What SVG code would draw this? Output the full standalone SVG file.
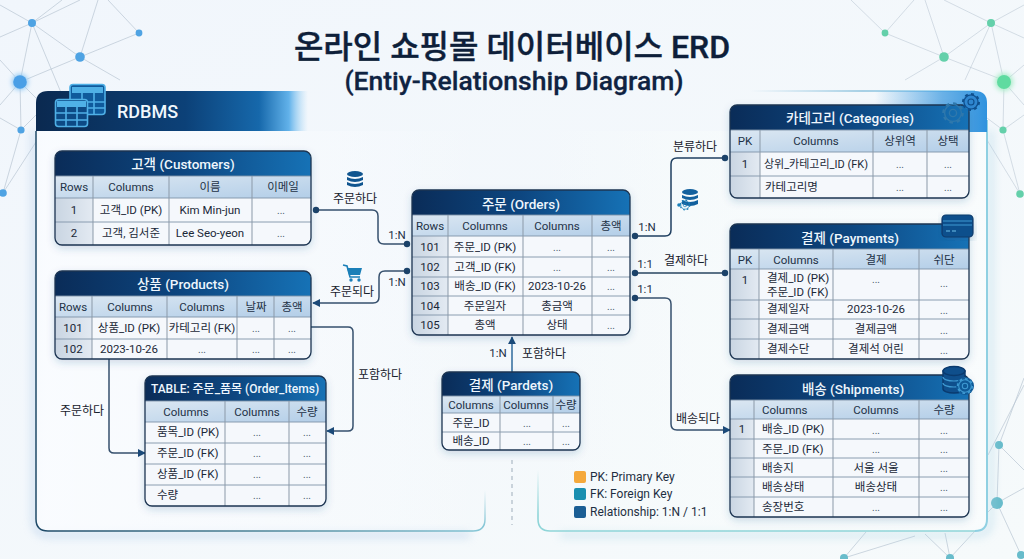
<svg xmlns="http://www.w3.org/2000/svg" width="1024" height="559" viewBox="0 0 1024 559">
<style>
text{font-family:Roboto,"Noto Sans CJK KR",sans-serif;fill:#1b2838}
.c{font-size:11.5px;text-anchor:middle}
.n{font-size:11.5px;text-anchor:middle}
.d{font-size:10px;text-anchor:middle;fill:#4a5a6c}
.l{font-size:11.5px}
.ch{font-size:11.5px;text-anchor:middle;fill:#1d3146}
.h{font-size:13.5px;font-weight:500;text-anchor:middle;fill:#eef6fd}
.r{font-size:12px;text-anchor:middle;fill:#16202c}
.k{font-size:11.5px;text-anchor:middle;fill:#1b2f45}
.lg{font-size:12px;fill:#1e2f42}
.net{stroke:#b9c6d2;stroke-width:.7;fill:none}
.bd{fill:#f5f8fc}
.hb{fill:url(#hg)}
.hc{fill:url(#cg)}
.sd{fill:url(#sg)}
.rl{stroke:#7f93a8;stroke-width:.9;fill:none}
.gl{stroke:#8b99a8;stroke-width:1;fill:none}
.fr{fill:none;stroke:#1d3552;stroke-width:1.3}
.cn{fill:none;stroke:#36506d;stroke-width:1.5}
.dot{fill:#1c4268}
.ic{fill:none;stroke:#4fb0e6;stroke-width:1.6}
</style>
<defs>
<linearGradient id="bg" x1="0" y1="0" x2="1" y2="1"><stop offset="0" stop-color="#f1f6fc"/><stop offset="1" stop-color="#f6fafb"/></linearGradient>
<linearGradient id="hg" x1="0" y1="0" x2="1" y2="0"><stop offset="0" stop-color="#0a2c58"/><stop offset=".5" stop-color="#0d4680"/><stop offset="1" stop-color="#1672b6"/></linearGradient>
<linearGradient id="cg" x1="0" y1="0" x2="1" y2="1"><stop offset="0" stop-color="#dbe7f2"/><stop offset="1" stop-color="#b3cee8"/></linearGradient>
<linearGradient id="sg" x1="0" y1="0" x2="1" y2="0"><stop offset="0" stop-color="#c9d5e2"/><stop offset="1" stop-color="#e3eaf2"/></linearGradient>
<linearGradient id="ban" x1="36" y1="0" x2="308" y2="0" gradientUnits="userSpaceOnUse"><stop offset="0" stop-color="#0a2950"/><stop offset=".55" stop-color="#0c4178"/><stop offset=".82" stop-color="#1668ab"/><stop offset=".93" stop-color="#62b2ea"/><stop offset="1" stop-color="#a6d6f5" stop-opacity="0"/></linearGradient>
<linearGradient id="lp" x1="36" y1="0" x2="485" y2="0" gradientUnits="userSpaceOnUse"><stop offset="0" stop-color="#1f4a68"/><stop offset=".5" stop-color="#4d8498"/><stop offset="1" stop-color="#86c6d6"/></linearGradient>
<linearGradient id="lpr" x1="0" y1="490" x2="0" y2="525" gradientUnits="userSpaceOnUse"><stop offset="0" stop-color="#9ccfdc" stop-opacity="0"/><stop offset="1" stop-color="#86c6d6"/></linearGradient>
<linearGradient id="rpl" x1="0" y1="470" x2="0" y2="515" gradientUnits="userSpaceOnUse"><stop offset="0" stop-color="#8fd5d8" stop-opacity="0"/><stop offset="1" stop-color="#8fd5d8"/></linearGradient>
<linearGradient id="rpt" x1="750" y1="0" x2="975" y2="0" gradientUnits="userSpaceOnUse"><stop offset="0" stop-color="#5da9cf" stop-opacity="0"/><stop offset=".5" stop-color="#5da9cf"/><stop offset="1" stop-color="#62c0ea"/></linearGradient>
<linearGradient id="rpc" x1="875" y1="0" x2="987" y2="0" gradientUnits="userSpaceOnUse"><stop offset="0" stop-color="#3d9ae0" stop-opacity="0"/><stop offset=".6" stop-color="#3d9ae0" stop-opacity=".75"/><stop offset="1" stop-color="#2f92de"/></linearGradient>
<linearGradient id="lfill" x1="36" y1="0" x2="485" y2="0" gradientUnits="userSpaceOnUse"><stop offset="0" stop-color="#fafcff" stop-opacity=".9"/><stop offset=".7" stop-color="#fafcff" stop-opacity=".35"/><stop offset="1" stop-color="#fafcff" stop-opacity="0"/></linearGradient>
<linearGradient id="rfill" x1="538" y1="0" x2="987" y2="0" gradientUnits="userSpaceOnUse"><stop offset="0" stop-color="#f8fcfc" stop-opacity="0"/><stop offset=".35" stop-color="#f8fcfc" stop-opacity=".5"/><stop offset="1" stop-color="#f9fcfd" stop-opacity=".95"/></linearGradient>
<filter id="sh" x="-10%" y="-10%" width="120%" height="125%"><feDropShadow dx="0" dy="3" stdDeviation="4" flood-color="#28558a" flood-opacity=".22"/></filter>
<filter id="bl" x="-5%" y="-5%" width="110%" height="110%"><feGaussianBlur stdDeviation="4"/></filter>
<filter id="gw" x="-100%" y="-100%" width="300%" height="300%"><feGaussianBlur stdDeviation="2.5"/></filter>
<marker id="ar" viewBox="0 0 10 10" refX="9" refY="5" markerWidth="5.5" markerHeight="5.5" orient="auto-start-reverse" markerUnits="strokeWidth"><path d="M0 0L10 5L0 10Z" fill="#1c4a78"/></marker>
<symbol id="gear" viewBox="-12 -12 24 24" overflow="visible">
<circle r="8.4" fill="none" stroke="currentColor" stroke-width="1.4"/>
<circle r="9.6" fill="none" stroke="currentColor" stroke-width="2.4" stroke-dasharray="3.5 4"/>
<circle r="3.6" fill="none" stroke="currentColor" stroke-width="1.4"/>
</symbol>
<clipPath id="t1"><rect x="55" y="151" width="256" height="94" rx="7"/></clipPath>
<clipPath id="t2"><rect x="55" y="271" width="256" height="88" rx="7"/></clipPath>
<clipPath id="t3"><rect x="145" y="376" width="181" height="130" rx="7"/></clipPath>
<clipPath id="t4"><rect x="412" y="190" width="218" height="145" rx="7"/></clipPath>
<clipPath id="t5"><rect x="442" y="372" width="138" height="78" rx="7"/></clipPath>
<clipPath id="t6"><rect x="730" y="105" width="239" height="93" rx="7"/></clipPath>
<clipPath id="t7"><rect x="730" y="224" width="239" height="135" rx="7"/></clipPath>
<clipPath id="t8"><rect x="730" y="375" width="239" height="142" rx="7"/></clipPath>
</defs>
<rect width="1024" height="559" fill="url(#bg)"/>
<g id="network">
<path class="net" d="M32 23L80 57M32 23L0 5M32 23L0 37M32 23L20 82M32 23L80 0M32 23L62 0M32 23L62 95M80 57L98 0M80 57L139 33M80 57L120 80M80 57L20 82M139 33L108 0M20 82L0 60M20 82L0 105M20 82L21 130M20 82L36 98M21 130L0 118M21 130L36 115M21 130L3 193M3 193L36 142"/>
<path class="net" stroke-opacity=".8" d="M885 33L851 0M885 33L914 0M885 33L944 57M944 57L991 23M944 57L925 0M944 57L905 80M944 57L1003 80M991 23L944 0M991 23L1024 5M991 23L1024 38M991 23L1004 82M991 23L965 80M1004 82L1024 65M1004 82L1024 105M1004 82L1003 130M1003 130L987 118M1003 130L1024 115M1003 130L1020 194M1020 194L987 140"/>
<path class="net" stroke="#bcd3d8" d="M999 445L997 503M999 445L1024 470M999 445L1024 378M988 455L1024 385M997 503L1024 488M997 503L1021 555M997 503L987 513M844 558L915 536M950 558L925 534M950 558L945 533M950 558L975 531M844 558L866 532"/>
<g fill="#4fa3e3"><circle cx="32" cy="23" r="4"/><circle cx="139" cy="33" r="3.4"/><circle cx="80" cy="57" r="4.8"/><circle cx="21" cy="130" r="3.6"/><circle cx="3" cy="193" r="3.8"/></g>
<circle cx="20" cy="82" r="8" fill="#8ec8f3" filter="url(#gw)"/><circle cx="20" cy="82" r="6.8" fill="#4a9fe6"/>
<g fill="#64d0aa"><circle cx="885" cy="33" r="3.4"/><circle cx="991" cy="23" r="4"/><circle cx="944" cy="57" r="4.8"/><circle cx="1003" cy="130" r="3.6"/><circle cx="1020" cy="194" r="3.8"/></g>
<circle cx="1004" cy="82" r="9" fill="#a8ecc8" filter="url(#gw)"/><circle cx="1004" cy="82" r="7" fill="#5fdba0"/>
<g fill="#68bccb"><circle cx="999" cy="445" r="4"/><circle cx="997" cy="503" r="6"/><circle cx="844" cy="558" r="4"/><circle cx="950" cy="558" r="4"/><circle cx="1021" cy="555" r="4"/></g>
</g>
<g id="panel-left">
<path d="M34 131V519Q34 535 50 535H470" fill="none" stroke="#a9c6e6" stroke-width="5" opacity=".55" filter="url(#bl)"/>
<path d="M36 131H485V519Q485 531 473 531H48Q36 531 36 519Z" fill="url(#lfill)"/>
<path d="M36 131V519Q36 531 48 531H473" fill="none" stroke="url(#lp)" stroke-width="1.5"/>
<path d="M473 531Q485 531 485 519V490" fill="none" stroke="url(#lpr)" stroke-width="1.5"/>
<path d="M36 131V103Q36 91 48 91H308V131Z" fill="url(#ban)"/>
<g class="ic"><rect x="70" y="84.500" width="35" height="30" rx="3" fill="#0f5a9c"/><rect x="72" y="87" width="31" height="6" fill="#4fb0e6" stroke="none"/><path d="M82 93V114M94 93V114M70 102H105M70 108H105"/></g>
<g class="ic"><rect x="55.500" y="99.500" width="32" height="27" rx="3" fill="#0d4a85"/><rect x="57" y="101" width="29" height="6" fill="#4fb0e6" stroke="none"/><path d="M66 107V126M77 107V126M55 113H88M55 120H88"/></g>
<text x="117" y="118" font-size="18" font-weight="500" style="fill:#f0f7fd">RDBMS</text>
</g>
<g id="panel-right">
<path d="M560 535H975Q991 535 991 519V130" fill="none" stroke="#a9d3e6" stroke-width="5" opacity=".5" filter="url(#bl)"/>
<path d="M538 131H987V519Q987 531 975 531H550Q538 531 538 519Z" fill="url(#rfill)"/>
<path d="M538 470V519Q538 531 550 531H975" fill="none" stroke="url(#rpl)" stroke-width="1.6"/>
<path d="M975 531Q987 531 987 519V120" fill="none" stroke="#8fd0e2" stroke-width="2"/>
<path d="M750 91H975" fill="none" stroke="url(#rpt)" stroke-width="1.2"/>
<path d="M875 91H975Q987 91 987 103V132H875Z" fill="url(#rpc)"/>
</g>
<line id="divider" x1="512" y1="460" x2="512" y2="525" stroke="#b3bfca" stroke-width="1.3" stroke-dasharray="4 4"/>
<g id="title">
<text x="512" y="58" font-size="32" font-weight="500" text-anchor="middle" style="fill:#0e1f3a;stroke:#0e1f3a;stroke-width:.4">온라인 쇼핑몰 데이터베이스 ERD</text>
<text x="514" y="90" font-size="26.500" font-weight="500" text-anchor="middle" style="fill:#0f2342;stroke:#0f2342;stroke-width:.3">(Entiy-Relationship Diagram)</text>
</g>
<g id="connectors">
<path class="cn" d="M316 210H372Q378 210 378 216V238Q378 244 384 244H407"/>
<path class="cn" marker-end="url(#ar)" d="M407 271H385Q379 271 379 277V297Q379 303 373 303H313"/>
<path class="cn" marker-end="url(#ar)" d="M311 327H348Q353 327 353 332V426Q353 431 348 431H327"/>
<path class="cn" marker-end="url(#ar)" d="M109 359V448Q109 453 114 453H145"/>
<path class="cn" marker-end="url(#ar)" style="stroke:#2f6b9c" d="M512 372V337"/>
<path class="cn" style="stroke:#1f3f60" d="M635 236H665Q671 236 671 230V164Q671 158 677 158H725"/>
<path class="cn" style="stroke:#5b7287;stroke-width:1.8" d="M635 273H725"/>
<path class="cn" marker-end="url(#ar)" d="M635 298H665Q671 298 671 304V424Q671 430 677 430H730"/>
<g class="dot"><circle cx="316" cy="210" r="3.2"/><circle cx="407" cy="244" r="3.2"/><circle cx="407" cy="271" r="3.2"/><circle cx="635" cy="236" r="3.2"/><circle cx="725" cy="158" r="3.2"/><circle cx="635" cy="273" r="3.2"/><circle cx="725" cy="273" r="3.2"/><circle cx="635" cy="298" r="3.2"/></g>
</g>
<g id="connector-labels">
<text class="r" x="355" y="203">주문하다</text>
<text class="k" x="397" y="239">1:N</text>
<text class="r" x="352" y="296">주문되다</text>
<text class="k" x="397" y="286">1:N</text>
<text class="r" x="380" y="379">포함하다</text>
<text class="r" x="82" y="415">주문하다</text>
<text class="k" x="498" y="357">1:N</text>
<text class="r" x="544" y="358">포함하다</text>
<text class="r" x="695" y="151">분류하다</text>
<text class="k" x="647" y="231">1:N</text>
<text class="k" x="645" y="268">1:1</text>
<text class="r" x="686" y="265">결제하다</text>
<text class="k" x="645" y="293">1:1</text>
<text class="r" x="698" y="423">배송되다</text>
</g>
<g id="connector-icons">
<g fill="#10558f"><ellipse cx="355" cy="174" rx="8" ry="3"/><path d="M347 177Q355 181 363 177V180Q355 184 347 180Z"/><path d="M347 182Q355 186 363 182V185Q355 189 347 185Z"/></g>
<g fill="none" stroke="#1a7fb8" stroke-width="1.6"><path d="M343 265L347 266L350 277H360"/></g><path d="M347 268H362L360 275H349Z" fill="#1a7fb8"/><circle cx="351" cy="280" r="1.7" fill="#1a7fb8"/><circle cx="359" cy="280" r="1.7" fill="#1a7fb8"/>
<g fill="#12609e"><ellipse cx="690" cy="192" rx="8" ry="3"/><path d="M682 195Q690 199 698 195V198Q690 202 682 198Z"/><path d="M682 200Q690 204 698 200V204Q690 208 682 204Z"/></g>
<use href="#gear" x="679" y="199" width="12" height="12" color="#1a7fb8"/><circle cx="679" cy="205" r="1.8" fill="#1a7fb8"/>
</g>
<g id="customers">
<g filter="url(#sh)"><rect class="bd" x="55" y="151" width="256" height="94" rx="7"/></g>
<g clip-path="url(#t1)">
<rect class="hb" x="55" y="151" width="256" height="25"/><rect class="hc" x="55" y="176" width="256" height="22"/><rect class="sd" x="55" y="198" width="38" height="47"/>
<path class="rl" d="M55 176H311M55 198H311M55 222H311"/><path class="gl" d="M93 176V245M169 176V245M252 176V245"/></g>
<rect class="fr" x="55" y="151" width="256" height="94" rx="7"/>
<text class="h" x="183" y="169">고객 (Customers)</text>
<text class="ch" x="74" y="191">Rows</text><text class="ch" x="131" y="191">Columns</text><text class="ch" x="210" y="191">이름</text><text class="ch" x="283" y="191">이메일</text>
<text class="n" x="74" y="214">1</text><text class="c" x="131" y="214">고객_ID (PK)</text><text class="c" x="210" y="214">Kim Min-jun</text><text class="d" x="281" y="214">...</text>
<text class="n" x="74" y="237">2</text><text class="c" x="131" y="237">고객, 김서준</text><text class="c" x="210" y="237">Lee Seo-yeon</text><text class="d" x="281" y="237">...</text>
</g>
<g id="products">
<g filter="url(#sh)"><rect class="bd" x="55" y="271" width="256" height="88" rx="7"/></g>
<g clip-path="url(#t2)">
<rect class="hb" x="55" y="271" width="256" height="25"/><rect class="hc" x="55" y="296" width="256" height="21"/><rect class="sd" x="55" y="317" width="37" height="42"/>
<path class="rl" d="M55 296H311M55 317H311M55 339H311"/><path class="gl" d="M92 296V359M167 296V359M237 296V359M274 296V359"/></g>
<rect class="fr" x="55" y="271" width="256" height="88" rx="7"/>
<text class="h" x="183" y="289">상품 (Products)</text>
<text class="ch" x="73" y="311">Rows</text><text class="ch" x="130" y="311">Columns</text><text class="ch" x="202" y="311">Columns</text><text class="ch" x="256" y="311">날짜</text><text class="ch" x="292" y="311">총액</text>
<text class="n" x="73" y="332">101</text><text class="c" x="129" y="332">상품_ID (PK)</text><text class="c" x="202" y="332">카테고리 (FK)</text><text class="d" x="256" y="332">...</text><text class="d" x="292" y="332">...</text>
<text class="n" x="73" y="353">102</text><text class="c" x="129" y="353">2023-10-26</text><text class="d" x="202" y="353">...</text><text class="d" x="256" y="353">...</text><text class="d" x="292" y="353">...</text>
</g>
<g id="order-items">
<g filter="url(#sh)"><rect class="bd" x="145" y="376" width="181" height="130" rx="7"/></g>
<g clip-path="url(#t3)">
<rect class="hb" x="145" y="376" width="181" height="25"/><rect class="hc" x="145" y="401" width="181" height="21"/>
<path class="rl" d="M145 401H326M145 422H326M145 443H326M145 464H326M145 485H326"/><path class="gl" d="M225 401V506M289 401V506"/></g>
<rect class="fr" x="145" y="376" width="181" height="130" rx="7"/>
<text class="h" x="235" y="393" style="font-size:12px">TABLE: 주문_품목 (Order_Items)</text>
<text class="ch" x="186" y="416">Columns</text><text class="ch" x="257" y="416">Columns</text><text class="ch" x="307" y="416">수량</text>
<text class="l" x="157" y="436">품목_ID (PK)</text><text class="d" x="257" y="436">...</text><text class="d" x="307" y="436">...</text>
<text class="l" x="157" y="457">주문_ID (FK)</text><text class="d" x="257" y="457">...</text><text class="d" x="307" y="457">...</text>
<text class="l" x="157" y="478">상품_ID (FK)</text><text class="d" x="257" y="478">...</text><text class="d" x="307" y="478">...</text>
<text class="l" x="157" y="499">수량</text><text class="d" x="257" y="499">...</text><text class="d" x="307" y="499">...</text>
</g>
<g id="orders">
<g filter="url(#sh)"><rect class="bd" x="412" y="190" width="218" height="145" rx="7"/></g>
<g clip-path="url(#t4)">
<rect class="hb" x="412" y="190" width="218" height="25"/><rect class="hc" x="412" y="215" width="218" height="21"/><rect class="sd" x="412" y="236" width="36" height="99"/>
<path class="rl" d="M412 215H630M412 236H630M412 257H630M412 277H630M412 296H630M412 315H630"/><path class="gl" d="M448 215V335M523 215V335M592 215V335"/></g>
<rect class="fr" x="412" y="190" width="218" height="145" rx="7"/>
<text class="h" x="521" y="209">주문 (Orders)</text>
<text class="ch" x="430" y="230">Rows</text><text class="ch" x="485" y="230">Columns</text><text class="ch" x="557" y="230">Columns</text><text class="ch" x="611" y="230">총액</text>
<text class="n" x="430" y="251">101</text><text class="c" x="485" y="251">주문_ID (PK)</text><text class="d" x="557" y="251">...</text><text class="d" x="611" y="251">...</text>
<text class="n" x="430" y="271">102</text><text class="c" x="485" y="271">고객_ID (FK)</text><text class="d" x="557" y="271">...</text><text class="d" x="611" y="271">...</text>
<text class="n" x="430" y="290">103</text><text class="c" x="485" y="290">배송_ID (FK)</text><text class="c" x="557" y="290">2023-10-26</text><text class="d" x="611" y="290">...</text>
<text class="n" x="430" y="310">104</text><text class="c" x="485" y="310">주문일자</text><text class="c" x="557" y="310">총금액</text><text class="d" x="611" y="310">...</text>
<text class="n" x="430" y="329">105</text><text class="c" x="485" y="329">총액</text><text class="c" x="557" y="329">상태</text><text class="d" x="611" y="329">...</text>
</g>
<g id="pardets">
<g filter="url(#sh)"><rect class="bd" x="442" y="372" width="138" height="78" rx="7"/></g>
<g clip-path="url(#t5)">
<rect class="hb" x="442" y="372" width="138" height="24"/><rect class="hc" x="442" y="396" width="138" height="17"/>
<path class="rl" d="M442 396H580M442 413H580M442 432H580"/><path class="gl" d="M500 396V450M553 396V450"/></g>
<rect class="fr" x="442" y="372" width="138" height="78" rx="7"/>
<text class="h" x="511" y="390">결제 (Pardets)</text>
<text class="ch" x="471" y="409">Columns</text><text class="ch" x="526" y="409">Columns</text><text class="ch" x="566" y="409">수량</text>
<text class="c" x="471" y="427">주문_ID</text><text class="d" x="527" y="427">...</text><text class="d" x="566" y="427">...</text>
<text class="c" x="471" y="445">배송_ID</text><text class="d" x="527" y="445">...</text><text class="d" x="566" y="445">...</text>
</g>
<g id="categories">
<g filter="url(#sh)"><rect class="bd" x="730" y="105" width="239" height="93" rx="7"/></g>
<g clip-path="url(#t6)">
<rect class="hb" x="730" y="105" width="239" height="25"/><rect class="hc" x="730" y="130" width="239" height="22"/><rect class="sd" x="730" y="152" width="30" height="46"/>
<path class="rl" d="M730 130H969M730 152H969M730 176H969"/><path class="gl" d="M760 130V198M873 130V198M927 130V198"/></g>
<rect class="fr" x="730" y="105" width="239" height="93" rx="7"/>
<text class="h" x="850" y="123">카테고리 (Categories)</text>
<text class="ch" x="745" y="145">PK</text><text class="ch" x="816" y="145">Columns</text><text class="ch" x="900" y="145">상위역</text><text class="ch" x="948" y="145">상택</text>
<text class="n" x="745" y="168">1</text><text class="c" x="816" y="168" style="font-size:11px">상위_카테고리_ID (FK)</text><text class="d" x="900" y="168">...</text><text class="d" x="948" y="168">...</text>
<text class="l" x="765" y="191">카테고리명</text><text class="d" x="900" y="191">...</text><text class="d" x="948" y="191">...</text>
<use href="#gear" x="941" y="101" width="24" height="24" color="#2f78ac"/>
<circle cx="971" cy="102" r="8" fill="#2f86cf"/>
<use href="#gear" x="961" y="92" width="20" height="20" color="#0f4f8c"/>
</g>
<g id="payments">
<g filter="url(#sh)"><rect class="bd" x="730" y="224" width="239" height="135" rx="7"/></g>
<g clip-path="url(#t7)">
<rect class="hb" x="730" y="224" width="239" height="25"/><rect class="hc" x="730" y="249" width="239" height="20"/><rect class="sd" x="730" y="269" width="29" height="90"/>
<path class="rl" d="M730 249H969M730 269H969M730 300H969M730 319H969M730 339H969"/><path class="gl" d="M759 249V359M833 249V359M919 249V359"/></g>
<rect class="fr" x="730" y="224" width="239" height="135" rx="7"/>
<text class="h" x="850" y="243">결제 (Payments)</text>
<text class="ch" x="745" y="264">PK</text><text class="ch" x="796" y="264">Columns</text><text class="ch" x="876" y="264">결제</text><text class="ch" x="944" y="264">쉬단</text>
<text class="n" x="745" y="284">1</text><text class="l" x="767" y="282">결제_ID (PK)</text><text class="l" x="767" y="296">주문_ID (FK)</text><text class="d" x="876" y="283">...</text><text class="d" x="944" y="287">...</text>
<text class="l" x="767" y="313">결제일자</text><text class="c" x="876" y="313">2023-10-26</text><text class="d" x="944" y="314">...</text>
<text class="l" x="767" y="333">결제금액</text><text class="c" x="876" y="333">결제금액</text><text class="d" x="944" y="334">...</text>
<text class="l" x="767" y="353">결제수단</text><text class="c" x="876" y="353">결제석 어린</text><text class="d" x="944" y="354">...</text>
<g filter="url(#sh)"><rect x="942" y="215" width="31" height="22" rx="4" fill="#0f4f8c" stroke="#0c3a6b" stroke-width="1.2"/></g>
<path d="M943 221H972M943 225H972" stroke="#3f9ad2" stroke-width="1.2"/><path d="M946 231H950M952 231H956" stroke="#6fc0e8" stroke-width="1"/>
</g>
<g id="shipments">
<g filter="url(#sh)"><rect class="bd" x="730" y="375" width="239" height="142" rx="7"/></g>
<g clip-path="url(#t8)">
<rect class="hb" x="730" y="375" width="239" height="25"/><rect class="hc" x="730" y="400" width="239" height="19"/><rect class="sd" x="730" y="419" width="24" height="98"/>
<path class="rl" d="M730 400H969M730 419H969M730 439H969M730 458H969M730 477H969M730 497H969"/><path class="gl" d="M754 400V517M833 400V517M919 400V517"/></g>
<rect class="fr" x="730" y="375" width="239" height="142" rx="7"/>
<text class="h" x="853" y="394">배송 (Shipments)</text>
<text class="l" x="762" y="414" style="fill:#1d3146">Columns</text><text class="ch" x="876" y="414">Columns</text><text class="ch" x="944" y="414">수량</text>
<text class="n" x="742" y="433">1</text><text class="l" x="762" y="433">배송_ID (PK)</text><text class="d" x="876" y="434">...</text><text class="d" x="944" y="434">...</text>
<text class="l" x="762" y="453">주문_ID (FK)</text><text class="d" x="876" y="453">...</text><text class="d" x="944" y="453">...</text>
<text class="l" x="762" y="472">배송지</text><text class="c" x="876" y="472">서울 서울</text><text class="d" x="944" y="472">...</text>
<text class="l" x="762" y="491">배송상태</text><text class="c" x="876" y="491">배송상태</text><text class="d" x="944" y="491">...</text>
<text class="l" x="762" y="511">송장번호</text><text class="d" x="876" y="511">...</text><text class="d" x="944" y="511">...</text>
<g fill="#0f4f8c" stroke="#0a3a6e" stroke-width="1.4"><path d="M943 371V389A11 4 0 0 0 965 389V371Z"/><ellipse cx="954" cy="371" rx="11" ry="4.500"/></g>
<path d="M943 377A11 4 0 0 0 965 377M943 383A11 4 0 0 0 965 383" fill="none" stroke="#3f9ad2" stroke-width="1.2"/>
<circle cx="965" cy="386" r="9" fill="#0f5a98"/>
<use href="#gear" x="956" y="377" width="18" height="18" color="#3f9ad2"/>
</g>
<g id="legend">
<rect x="574" y="471" width="12" height="12" rx="2" fill="#f5a93c"/><text class="lg" x="590" y="481">PK: Primary Key</text>
<rect x="574" y="488" width="12" height="12" rx="2" fill="#1a8fb0"/><text class="lg" x="590" y="498">FK: Foreign Key</text>
<rect x="574" y="506" width="12" height="12" rx="2" fill="#1b5e94"/><text class="lg" x="590" y="516">Relationship: 1:N / 1:1</text>
</g>
</svg>
